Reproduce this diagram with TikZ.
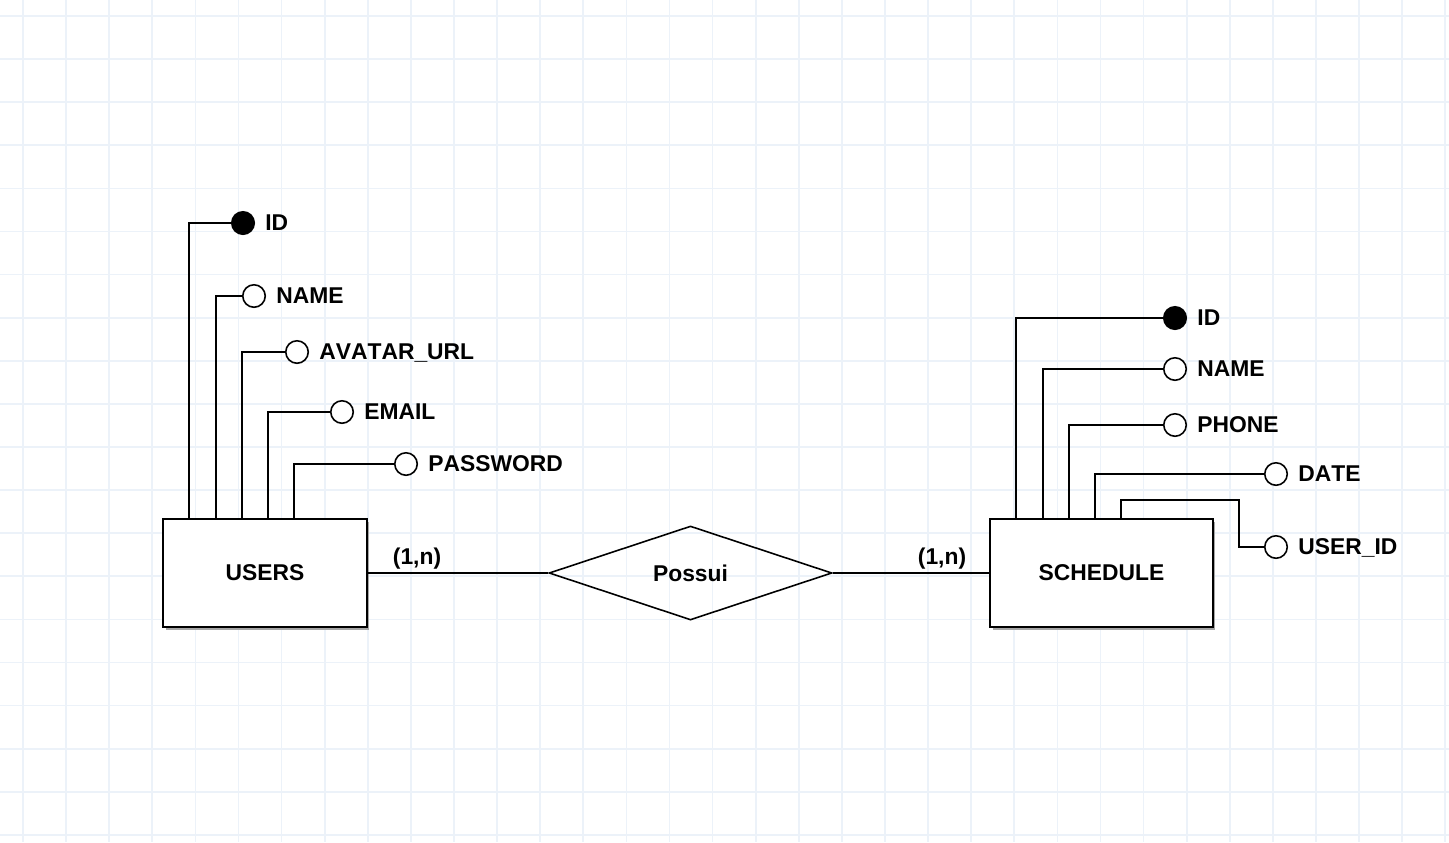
\documentclass[tikz,border=0pt]{standalone}
\usepackage{fontspec}
\setmainfont{Liberation Sans}[Kerning=Off]
\usetikzlibrary{positioning,shapes.geometric,shadows}

\definecolor{gridblue}{RGB}{236,242,249}

\begin{document}
\begin{tikzpicture}[x=0.02cm,y=-0.02cm,
    font=\fontsize{13}{15}\selectfont\bfseries,
    node distance=0.2cm,
    gridline/.style={gridblue,line width=1pt},
    link/.style={line width=0.9pt},
    entity/.style={draw,fill=white,line width=1pt,minimum height=2.16cm,
      drop shadow={shadow xshift=0.05cm,shadow yshift=-0.05cm,fill=gray!70,opacity=1}},
    attr/.style={draw,circle,fill=white,line width=0.9pt,minimum size=0.45cm,inner sep=0pt},
    keyattr/.style={attr,fill=black},
    lbl/.style={inner sep=0pt,text depth=0pt},
    rel/.style={draw,diamond,line width=0.9pt,minimum width=5.66cm,minimum height=1.88cm,inner sep=0pt}]

      \useasboundingbox[fill=white] (0,0) rectangle (1449,842);

      % grid
      \foreach \i in {0,1,...,33} {
        \draw[gridline] (23+43.1*\i,0) -- (23+43.1*\i,842);
      }
      \foreach \j in {0,1,...,19} {
        \draw[gridline] (0,16+43.1*\j) -- (1449,16+43.1*\j);
      }

      % entities and relation
      \node[entity,minimum width=4.08cm] (users) at (265,573) {USERS};
      \node[entity,minimum width=4.46cm] (sched) at (1101.5,573) {SCHEDULE};
      \node[rel] (rel) at (690.5,573) {Possui};

      \draw[link] (users) -- (rel);
      \draw[link] (rel) -- (sched);
      \node[lbl] (card1) at (417,556) {(1,n)};
      \node[lbl] (card2) at (942,556) {(1,n)};

      % users attributes
      \node[keyattr] (uid) at (243,223) {};
      \node[lbl,right=of uid] (uidl) {ID};
      \coordinate (uk) at (189,519);
      \draw[link] (uk) |- (uid);
      \foreach \t/\lx/\cx/\y [count=\i] in {NAME/216/254/296, AVATAR\_URL/242/297/352,
          EMAIL/268/342/412, PASSWORD/294/406/464} {
        \node[attr] (ua\i) at (\cx,\y) {};
        \node[lbl,right=of ua\i] (ual\i) {\t};
        \coordinate (ut\i) at (\lx,519);
        \draw[link] (ut\i) |- (ua\i);
      }

      % schedule attributes
      \node[keyattr] (sid) at (1175,318) {};
      \node[lbl,right=of sid] (sidl) {ID};
      \coordinate (sk) at (1016,519);
      \draw[link] (sk) |- (sid);
      \foreach \t/\lx/\cx/\y [count=\i] in {NAME/1043/1175/369, PHONE/1069/1175/425,
          DATE/1095/1276/474} {
        \node[attr] (sa\i) at (\cx,\y) {};
        \node[lbl,right=of sa\i] (sal\i) {\t};
        \coordinate (st\i) at (\lx,519);
        \draw[link] (st\i) |- (sa\i);
      }
      \node[attr] (suid) at (1276,547) {};
      \node[lbl,right=of suid] (suidl) {USER\_ID};
      \coordinate (su) at (1121,519);
      \coordinate (subend) at (1239,500);
      \draw[link] (su) |- (subend) |- (suid);
    \end{tikzpicture}
\end{document}
